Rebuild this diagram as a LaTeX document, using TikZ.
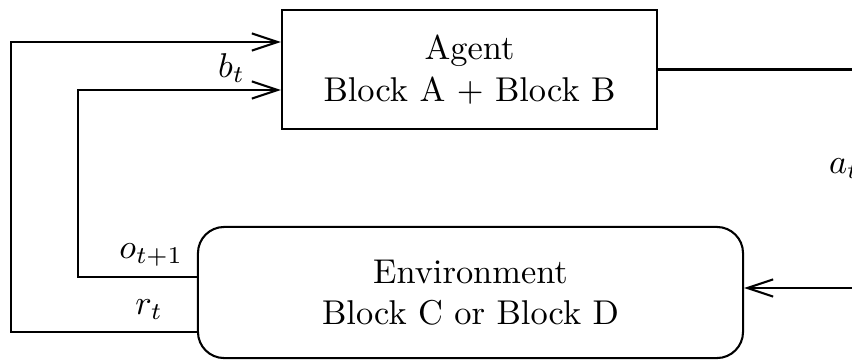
\documentclass[tikz,border=0pt]{standalone}
\usetikzlibrary{arrows.meta,calc}
\begin{document}
\begin{tikzpicture}[x=0.2906pt,y=0.2906pt, line width=0.6pt,
  blockbox/.style={draw, align=center, inner sep=0pt},
  flow/.style={-{Straight Barb[length=7.5pt,width=5pt]}},
  lbl/.style={inner sep=0pt, anchor=base east}]
\useasboundingbox (0,0) rectangle (852,360);

% the two blocks
\node[blockbox, minimum width=109pt, minimum height=34.6pt] (agent) at (469.5,290.5)
  {Agent\\Block A + Block B};
\node[blockbox, rounded corners=7.6pt, minimum width=158.4pt, minimum height=38.1pt] (env) at (470.5,67.5)
  {Environment\\Block C or Block D};

% corners of the feedback loops
\coordinate (ob) at (78,83);
\coordinate (bt) at (78,270);
\coordinate (rb) at (11,28);
\coordinate (rt) at (11,318);
\coordinate (aout) at (905,72);

% feedback from the environment to the agent
\draw[flow] (env.west |- ob) -- (ob) -- (bt) -- (bt -| agent.west);
\draw[flow] (env.west |- rb) -- (rb) -- (rt) -- (rt -| agent.west);

% action from the agent to the environment
\draw[flow] (agent.east) -| (aout) -- (aout -| env.east);

% signal labels
\node[lbl] (lb) at (246,283) {$b_t$};
\node[lbl] (lo) at (184,102) {$o_{t+1}$};
\node[lbl] (lr) at (164,46) {$r_t$};
\node[inner sep=0pt, anchor=base west] (la) at (828,187) {$a_t$};
\end{tikzpicture}
\end{document}
